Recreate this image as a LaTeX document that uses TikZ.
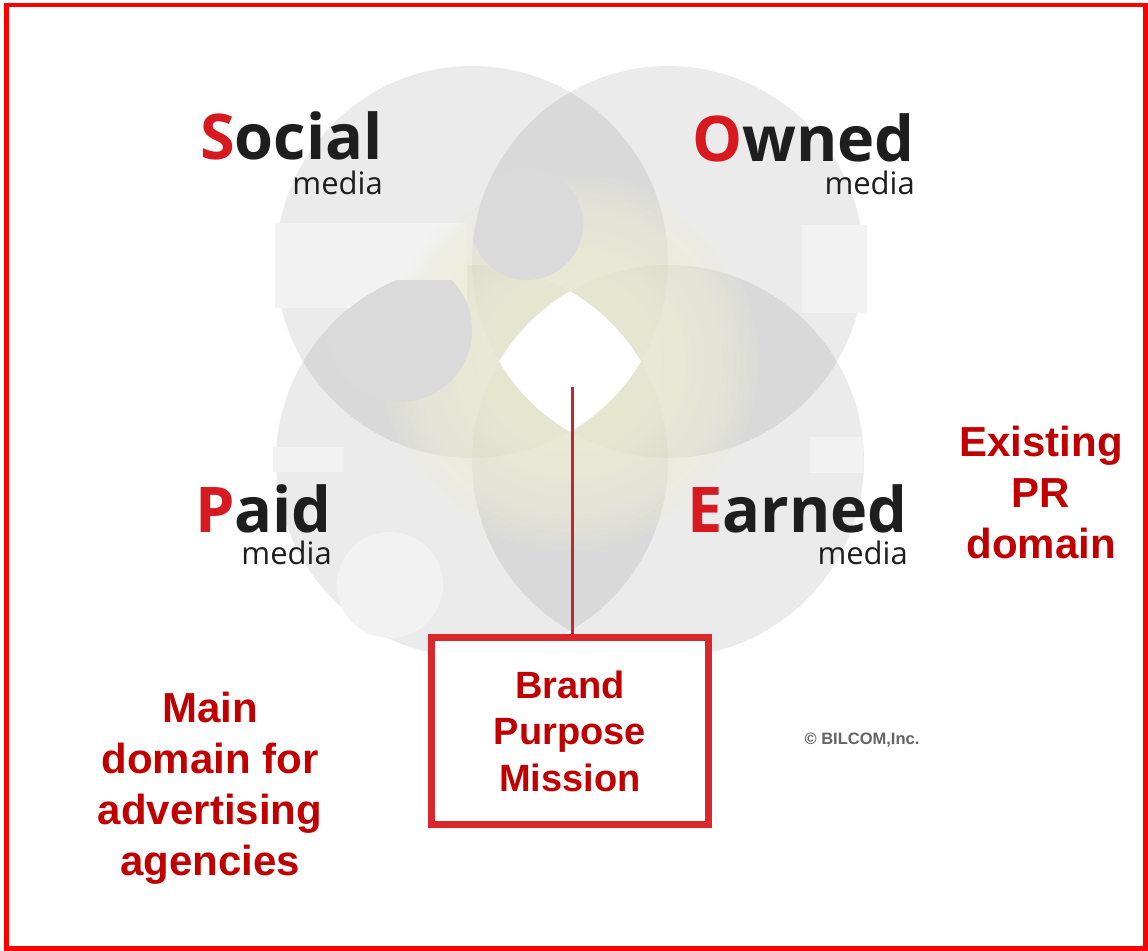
\documentclass[tikz,border=0pt]{standalone}
\usepackage{fontspec}
\setmainfont{Liberation Sans}
\newfontfamily\medfont{Open Sans}
\usetikzlibrary{positioning}

\definecolor{mred}{RGB}{215,25,32}
\definecolor{ink}{RGB}{30,30,30}
\definecolor{dred}{RGB}{192,0,0}
\definecolor{boxred}{RGB}{217,40,43}
\definecolor{linkred}{RGB}{190,40,50}
\definecolor{glowcol}{RGB}{238,238,214}
\definecolor{patchgray}{gray}{0.95}
\definecolor{blobgray}{gray}{0.855}
\definecolor{cgray}{RGB}{100,100,100}

\newcommand{\bigword}[2]{{\medfont\bfseries\fontsize{63}{70}\selectfont\textcolor{mred}{#1}#2}}

\begin{document}
\begin{tikzpicture}[
  x=1pt, y=-1pt,
  disc/.style={fill=black, fill opacity=0.078},
  patch/.style={fill=patchgray},
  blob/.style={fill=blobgray},
  glow/.style={fill=glowcol, fill opacity=0.1},
  medialabel/.style={font=\medfont\fontsize{31}{33}\selectfont,
                     text=ink, inner sep=0pt, align=right, anchor=south east},
  note/.style={font=\bfseries\fontsize{42}{51}\selectfont, text=dred,
               align=center, inner sep=0pt},
  purposebox/.style={rectangle, draw=boxred, line width=7pt, fill=white,
                     minimum width=277pt, minimum height=187pt,
                     font=\bfseries\fontsize{38}{46.5}\selectfont,
                     text=dred, align=center, inner sep=0pt},
  link/.style={draw=linkred, line width=3pt}
]
\useasboundingbox (0,0) rectangle (1148,950);

% frame
\draw[red, line width=4.5pt] (6.5,5) rectangle (1145.5,948.5);

% circle centres
\coordinate (tl) at (472,262);
\coordinate (tr) at (668,262);
\coordinate (bl) at (472,461);
\coordinate (br) at (668,461);
\coordinate (mid) at (570,362);
\coordinate (hub) at (572,387);

% four media circles
\foreach \c in {tl,tr,bl,br}
  \fill[disc] (\c) circle[radius=196pt];

% retouched patches
\foreach \xa/\ya/\xb/\yb in {275/223/467/308, 802/225/867/313,
                            810/437/863/473, 273/447/343/472}
  \fill[patch] (\xa,\ya) rectangle (\xb,\yb);
\fill[patch] (390,585) circle[radius=53pt];

% glow, built up from thin rings
\foreach \r in {74,80,...,188}
  \fill[glow] (mid) circle[radius=\r pt];

% darker patches over the glow
\begin{scope}
  \clip (tr) circle[radius=196pt];
  \fill[blob] (527,224) circle[radius=56pt];
\end{scope}
\begin{scope}
  \clip (bl) circle[radius=196pt];
  \clip (290,280) rectangle (480,420);
  \fill[blob] (400,330) circle[radius=72pt];
\end{scope}

% white centre: where all four circles meet
\begin{scope}
  \clip (tl) circle[radius=196pt];
  \clip (tr) circle[radius=196pt];
  \clip (bl) circle[radius=196pt];
  \fill[white] (br) circle[radius=196pt];
\end{scope}

% media labels
\node[medialabel] (social) at (383,195) {\bigword{S}{ocial}\\[2pt] media};
\node[medialabel] (owned)  at (915,195) {\bigword{O}{wned}\\ media};
\node[medialabel] (paid)   at (332,565) {\bigword{P}{aid}\\[-1pt] media};
\node[medialabel] (earned) at (908,565) {\bigword{E}{arned}\\[-1pt] media};

% brand box
\node[purposebox] (purpose) at (570,731) {Brand\\Purpose\\Mission};
\draw[link] (hub) -- (hub |- purpose.north);

% domains
\node[note, anchor=north] (agencies) at (210,692) {Main\\domain for\\advertising\\agencies};
\node[note, anchor=north] (prdomain) at (1041,426) {Existing\\PR\\domain};

% credit
\node[font=\bfseries\fontsize{16.5}{20}\selectfont, text=cgray] (credit) at (862,740) {© BILCOM,Inc.};

\end{tikzpicture}
\end{document}
